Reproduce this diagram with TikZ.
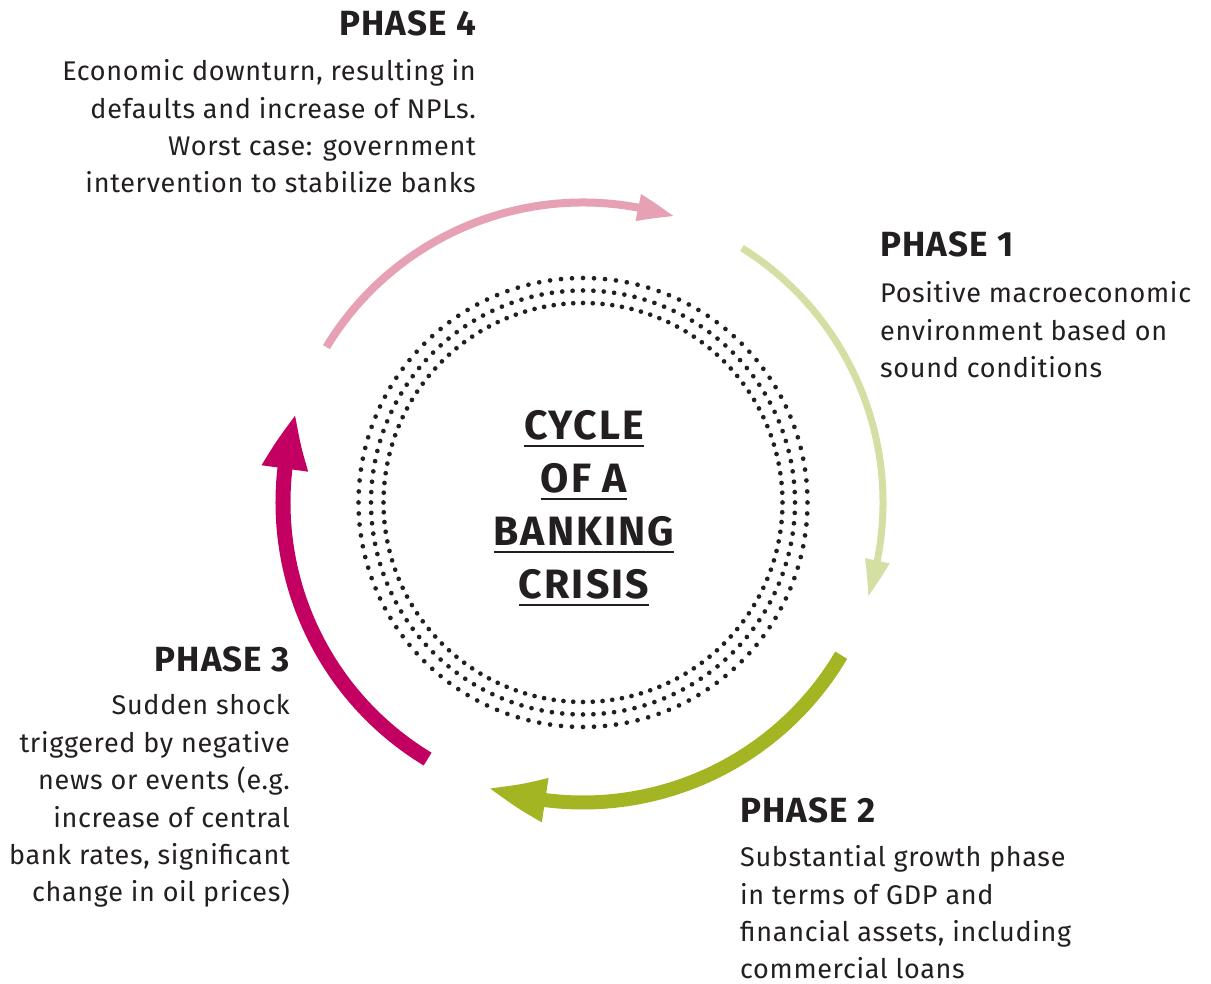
\documentclass[tikz,border=0pt]{standalone}
\usepackage{fontspec}
\setmainfont{Fira Sans}
\usetikzlibrary{arrows.meta,bending}
\definecolor{txt}{HTML}{231F20}
\definecolor{pinkc}{HTML}{E6A1B4}
\definecolor{lgreen}{HTML}{D4DFA3}
\definecolor{dgreen}{HTML}{A3B523}
\definecolor{magc}{HTML}{C30061}
\newfontfamily\headfont[LetterSpace=3]{Fira Sans}
\newfontfamily\bodyfont[LetterSpace=2.5]{Fira Sans}
\newfontfamily\ctrfont[LetterSpace=5]{Fira Sans}
\tikzset{
  head/.style={font=\headfont\fontsize{35}{40}\selectfont\bfseries, text=txt, inner sep=0pt},
  body/.style={font=\bodyfont\fontsize{27}{37.4}\selectfont, text=txt, inner sep=0pt},
  ctr/.style={font=\ctrfont\fontsize{41}{48}\selectfont\bfseries, text=txt, inner sep=0pt, anchor=base},
  uline/.style={draw=txt, line width=2.3pt},
}
\begin{document}
\begin{tikzpicture}[x=1pt,y=1pt]
\useasboundingbox (0,0) rectangle (1211,984);
\coordinate (C) at (583,481.5);
% dotted rings
\foreach \r in {199.5,212,224.5}{
  \foreach \i in {0,...,127}{
    \fill[txt] (C) ++(\i*2.8125:\r) circle (2.35);
  }
}
% arcs
\draw[pinkc, line width=8pt, -{Triangle[length=38pt,width=25pt,bend]}]
  (C) ++(148.8:300) arc[start angle=148.8, end angle=72.2, radius=300];
\draw[lgreen, line width=7pt, -{Triangle[length=38pt,width=23pt,bend]}]
  (C) ++(58:300) arc[start angle=58, end angle=-18.4, radius=300];
\draw[dgreen, line width=14pt, -{Triangle[length=60pt,width=40pt,bend]}]
  (C) ++(-30.6:300) arc[start angle=-30.6, end angle=-108.6, radius=300];
\draw[magc, line width=15pt, -{Triangle[length=57pt,width=42pt,bend]}]
  (C) ++(238.8:300) arc[start angle=238.8, end angle=162.7, radius=300];
% center
\node[ctr] (c1) at (584,984-439.5) {CYCLE};
\node[ctr] (c2) at (584,984-492.5) {OF A};
\node[ctr] (c3) at (584,984-545.5) {BANKING};
\node[ctr] (c4) at (584,984-598.5) {CRISIS};
\foreach \n in {c1,c2,c3,c4}{
  \draw[uline] ([yshift=-6.5pt]\n.base west) -- ([yshift=-6.5pt]\n.base east);
}
% phase 4
\node[head, anchor=base east] (h4) at (476,984-36) {PHASE 4};
\node[body, anchor=base east, align=right] (b4) at (476,984-193)
  {Economic downturn, resulting in\\defaults and increase of NPLs.\\Worst case: government\\intervention to stabilize banks};
% phase 1
\node[head, anchor=base west] (h1) at (880,984-257) {PHASE 1};
\node[body, anchor=base west, align=left] (b1) at (880,984-377.5)
  {Positive macroeconomic\\environment based on\\sound conditions};
% phase 2
\node[head, anchor=base west] (h2) at (740,984-823) {PHASE 2};
\node[body, anchor=base west, align=left] (b2) at (740,984-979)
  {Substantial growth phase\\in terms of GDP and\\financial assets, including\\commercial loans};
% phase 3
\node[head, anchor=base east] (h3) at (290,984-672) {PHASE 3};
\node[body, anchor=base east, align=right] (b3) at (290,984-902)
  {Sudden shock\\triggered by negative\\news or events (e.g.\\increase of central\\bank rates, significant\\change in oil prices)};
\end{tikzpicture}
\end{document}
